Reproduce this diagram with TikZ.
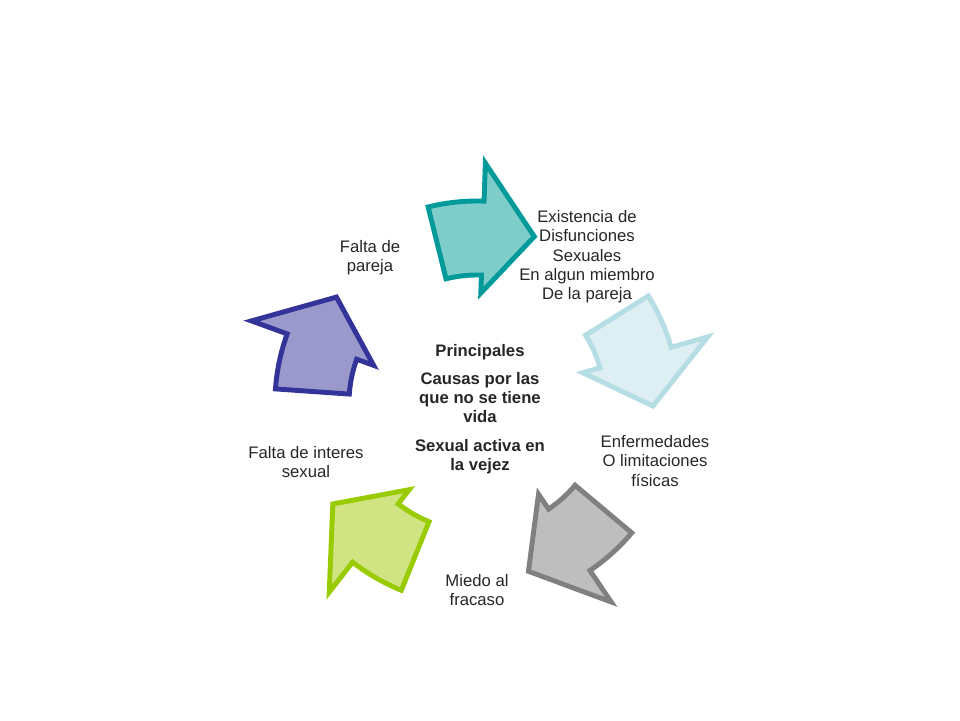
\documentclass[tikz,border=0pt]{standalone}
\usepackage{fontspec}
\setmainfont{Liberation Sans}
\definecolor{teal_fill}{HTML}{7FCDCB}
\definecolor{teal_line}{HTML}{009A9A}
\definecolor{ice_fill}{HTML}{DDEFF3}
\definecolor{ice_line}{HTML}{B5DDE4}
\definecolor{grey_fill}{HTML}{BEBEBE}
\definecolor{grey_line}{HTML}{808080}
\definecolor{lime_fill}{HTML}{D1E483}
\definecolor{lime_line}{HTML}{99CC00}
\definecolor{navy_fill}{HTML}{9999CC}
\definecolor{navy_line}{HTML}{333399}
\newcommand{\cyclearrow}[3]{%
  \draw[line width=2.8pt, line join=miter, fill=#2, draw=#3]
    (#1+104:128) arc[start angle=#1+104, end angle=#1+88, radius=128]
    -- (#1+88:110) -- (#1+71:176) -- (#1+88:240) -- (#1+88:202)
    arc[start angle=#1+88, end angle=#1+104, radius=202] -- cycle;}
\begin{document}
\begin{tikzpicture}[x=0.02cm, y=0.02cm, font=\fontsize{9.5}{11}\selectfont,
  lbl/.style={align=center, text=black!85}]
  \useasboundingbox (-477,-317) rectangle (483,403);
  % Fleches
  \cyclearrow{0}{teal_fill}{teal_line}
  \cyclearrow{-72}{ice_fill}{ice_line}
  \cyclearrow{-144}{grey_fill}{grey_line}
  \cyclearrow{-216}{lime_fill}{lime_line}
  \cyclearrow{-288}{navy_fill}{navy_line}

  % Textes
  \node[lbl] (exist) at (110,146) {Existencia de\\Disfunciones\\Sexuales\\En algun miembro\\De la pareja};
  \node[lbl] (enfer) at (178,-58) {Enfermedades\\O limitaciones\\físicas};
  \node[lbl] (miedo) at (0,-187) {Miedo al\\fracaso};
  \node[lbl] (inter) at (-171,-59) {Falta de interes\\sexual};
  \node[lbl] (pareja) at (-107,145) {Falta de\\pareja};
  \node[lbl, font=\fontsize{9.5}{11}\selectfont\bfseries] (centro) at (3,-6)
    {Principales\\[5pt]Causas por las\\que no se tiene\\vida\\[5pt]Sexual activa en\\la vejez};
\end{tikzpicture}
\end{document}
